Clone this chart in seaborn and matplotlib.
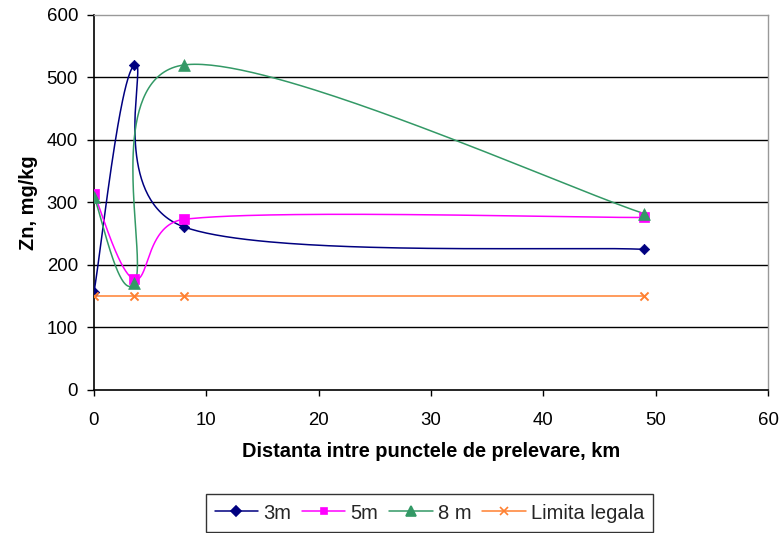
import numpy as np
import pandas as pd
import seaborn as sns
import matplotlib
matplotlib.use("Agg")
import matplotlib.pyplot as plt
from matplotlib.lines import Line2D

# Sampling distances (km) and zinc content (mg/kg) at each depth
distance = [0.0, 3.6, 8.0, 49.0]
zn_3m = [157, 520, 261, 225]
zn_5m = [314, 177, 273, 276]
zn_8m = [309, 171, 520, 282]
zn_limit = [150, 150, 150, 150]

labels = ["3m", "5m", "8 m", "Limita legala"]
colors = ["#000080", "#FF00FF", "#339966", "#FF8030"]
markers = ["D", "s", "^", "x"]
smooth = [True, True, True, False]

XMAX, YMAX = 60, 600

sns.set_theme(style="white")
plt.rcParams["font.family"] = ["Liberation Sans", "DejaVu Sans"]

fig = plt.figure(figsize=(7.82, 5.33), dpi=100)
ax = fig.add_axes([0.1202, 0.2683, 0.8619, 0.7036])
ax.set_xlim(0, XMAX)
ax.set_ylim(0, YMAX)

# Pixel scale of the plot area, so the curve tension is computed in screen space
sx = 674 / XMAX
sy = 375 / YMAX


def smooth_curve(xs, ys, n=80):
    """Bezier smoothing with 1/6 tension, control arms capped at half a segment."""
    pts = np.column_stack([np.asarray(xs, float) * sx, np.asarray(ys, float) * sy])
    out = []
    m = len(pts)
    for i in range(m - 1):
        p0 = pts[i - 1] if i > 0 else pts[i]
        p1 = pts[i]
        p2 = pts[i + 1]
        p3 = pts[i + 2] if i + 2 < m else pts[i + 1]
        half = np.linalg.norm(p2 - p1) / 2.0
        t1 = (p2 - p0) / 6.0
        t2 = (p3 - p1) / 6.0
        if np.linalg.norm(t1) > half:
            t1 = t1 * half / np.linalg.norm(t1)
        if np.linalg.norm(t2) > half:
            t2 = t2 * half / np.linalg.norm(t2)
        c1 = p1 + t1
        c2 = p2 - t2
        t = np.linspace(0, 1, n)[:, None]
        seg = ((1 - t) ** 3) * p1 + 3 * ((1 - t) ** 2) * t * c1 + 3 * (1 - t) * t ** 2 * c2 + t ** 3 * p2
        out.append(seg if i == 0 else seg[1:])
    out = np.vstack(out)
    return out[:, 0] / sx, out[:, 1] / sy


series = [zn_3m, zn_5m, zn_8m, zn_limit]
marker_area = {"D": 28, "s": 58, "^": 72, "x": 34}
for vals, lab, col, mk, sm in zip(series, labels, colors, markers, smooth):
    if sm:
        cx, cy = smooth_curve(distance, vals)
    else:
        cx, cy = np.array(distance), np.array(vals)
    ax.plot(cx, cy, color=col, lw=1.1, zorder=3, solid_capstyle="round")
    df = pd.DataFrame({"x": distance, "y": vals})
    if mk == "x":
        ax.scatter(df["x"], df["y"], marker="x", s=marker_area[mk], color=col,
                   linewidths=1.4, zorder=4)
    else:
        sns.scatterplot(data=df, x="x", y="y", marker=mk, s=marker_area[mk], color=col,
                        edgecolor=col, linewidth=0.5, ax=ax, zorder=4, legend=False)

# Horizontal gridlines
for yv in range(100, 600, 100):
    ax.axhline(yv, color="black", lw=1.0, zorder=1)

ax.set_xticks(range(0, 61, 10))
ax.set_yticks(range(0, 601, 100))
ax.tick_params(axis="x", direction="out", length=4.5, width=1, color="black",
               labelsize=13.4, pad=11, bottom=True, labelcolor="black")
ax.tick_params(axis="y", direction="out", length=5, width=1, color="black",
               labelsize=13.4, pad=6.5, left=True, labelcolor="black")
for s in ["left", "bottom"]:
    ax.spines[s].set_color("black")
    ax.spines[s].set_linewidth(1.2)
for s in ["top", "right"]:
    ax.spines[s].set_color("#999999")
    ax.spines[s].set_linewidth(1.0)

ax.set_xlabel("Distanta intre punctele de prelevare, km", fontsize=14.4,
              fontweight="bold", labelpad=10, color="black")
ax.set_ylabel("Zn, mg/kg", fontsize=14.4, fontweight="bold", labelpad=6, color="black")

handles = []
legend_ms = {"D": 5.4, "s": 5.0, "^": 7.5, "x": 5.3}
for lab, col, mk in zip(labels, colors, markers):
    handles.append(Line2D([0], [0], color=col, lw=1.1, marker=mk, markersize=legend_ms[mk],
                          markerfacecolor=col, markeredgecolor=col, markeredgewidth=1.2))
leg = fig.legend(handles=handles, labels=labels, loc="center", bbox_to_anchor=(0.549, 0.0375),
                 ncol=4, frameon=True, fancybox=False, fontsize=14.5, handlelength=2.15,
                 columnspacing=0.55, handletextpad=0.25, borderpad=0.45)
leg.get_frame().set_edgecolor("black")
leg.get_frame().set_linewidth(1.0)

fig.savefig("out.png", dpi=100)
